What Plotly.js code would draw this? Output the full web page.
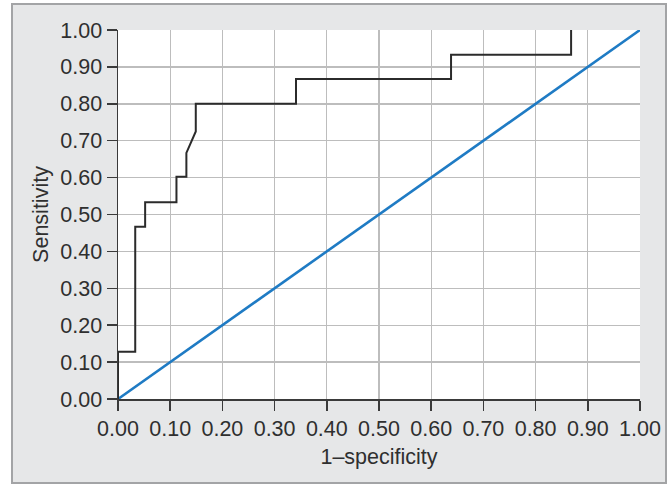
<!DOCTYPE html>
<html>
<head>
<meta charset="utf-8">
<script src="https://cdn.plot.ly/plotly-3.0.1.min.js"></script>
<style>
  html, body { margin: 0; padding: 0; background: #ffffff; }
  #frame {
    position: absolute; left: 11px; top: 3px;
    width: 656px; height: 481px; box-sizing: border-box;
    border: 2px solid #a3a4a6; background: #e6e7e8;
  }
  #chart { width: 652px; height: 477px; }
</style>
</head>
<body>
<div id="frame"><div id="chart"></div></div>
<script>
// ROC curve (1-specificity vs sensitivity)
const fpr  = [0.000, 0.000, 0.033, 0.033, 0.052, 0.052, 0.112, 0.112, 0.131, 0.131, 0.149, 0.149, 0.341, 0.341, 0.638, 0.638, 0.868, 0.868];
const tpr  = [0.000, 0.128, 0.128, 0.467, 0.467, 0.533, 0.533, 0.602, 0.602, 0.667, 0.725, 0.800, 0.800, 0.867, 0.867, 0.933, 0.933, 1.000];
// Reference (chance) line
const refX = [0, 1];
const refY = [0, 1];
const tickVals = [0, 0.1, 0.2, 0.3, 0.4, 0.5, 0.6, 0.7, 0.8, 0.9, 1.0];
const tickText = ["0.00", "0.10", "0.20", "0.30", "0.40", "0.50", "0.60", "0.70", "0.80", "0.90", "1.00"];

const tickFont  = { family: "Liberation Sans, Arial, sans-serif", size: 21.5, color: "#2f2f2f" };
const titleFont = { family: "Liberation Sans, Arial, sans-serif", size: 21.5, color: "#2f2f2f" };

const traces = [
  { x: refX, y: refY, type: "scatter", mode: "lines",
    line: { color: "#1f7bc4", width: 2.6 }, hoverinfo: "skip" },
  { x: fpr, y: tpr, type: "scatter", mode: "lines",
    line: { color: "#2b2b2b", width: 2 }, hoverinfo: "skip" }
];

const axisCommon = {
  range: [0, 1], tickmode: "array", tickvals: tickVals, ticktext: tickText,
  showgrid: true, gridcolor: "#bdbdbd", gridwidth: 1.4,
  zeroline: false, showline: true, linecolor: "#3a3a3a", linewidth: 1.5,
  ticks: "outside", ticklen: 10, tickwidth: 1.5, tickcolor: "#3a3a3a",
  tickfont: tickFont, fixedrange: true
};

const layout = {
  width: 652, height: 477,
  margin: { l: 105, r: 25, t: 25, b: 83 },
  paper_bgcolor: "#e6e7e8", plot_bgcolor: "#ffffff",
  showlegend: false,
  font: tickFont,
  xaxis: Object.assign({}, axisCommon, { title: { text: "1–specificity", font: titleFont, standoff: 8 } }),
  yaxis: Object.assign({}, axisCommon, { title: { text: "Sensitivity", font: titleFont, standoff: 6 } })
};

Plotly.newPlot("chart", traces, layout, { displayModeBar: false, staticPlot: true });
</script>
</body>
</html>
